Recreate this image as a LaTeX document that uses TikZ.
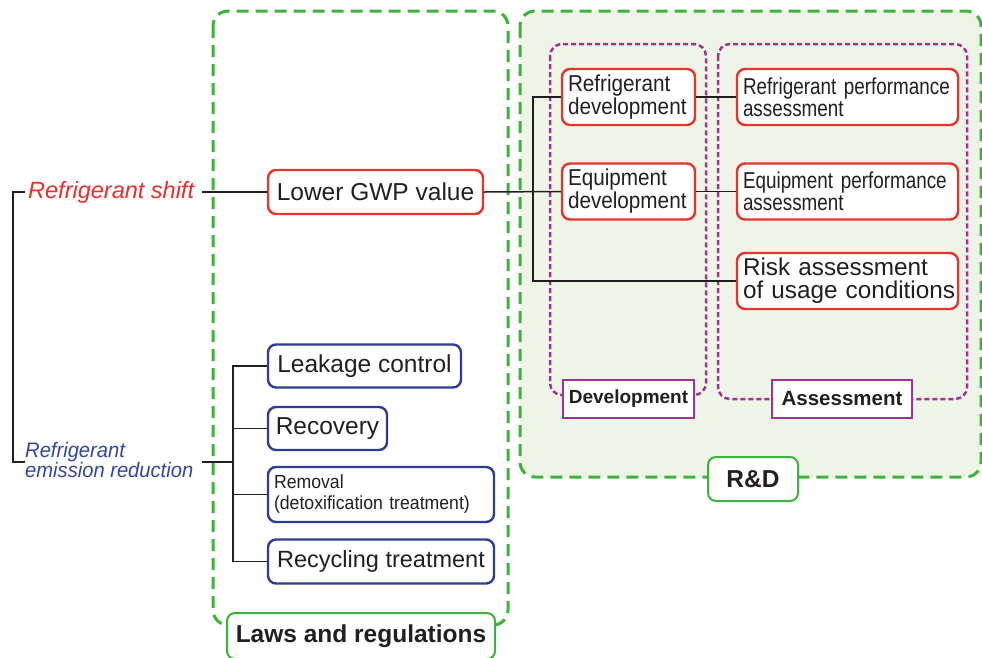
\documentclass[tikz,border=0pt]{standalone}
\usepackage{fontspec}
\setmainfont{Liberation Sans}
\newfontfamily\nfA[FakeStretch=0.9]{Liberation Sans}
\newfontfamily\nfB[FakeStretch=0.82]{Liberation Sans}
\newfontfamily\nfC[FakeStretch=0.93]{Liberation Sans}
\newfontfamily\nfD[FakeStretch=0.96]{Liberation Sans}
\definecolor{cgreen}{RGB}{60,180,60}
\definecolor{cred}{RGB}{232,50,45}
\definecolor{cblue}{RGB}{45,60,150}
\definecolor{cpurple}{RGB}{160,50,150}
\definecolor{cfill}{RGB}{238,245,230}
\definecolor{ctext}{RGB}{35,31,32}
\definecolor{cshift}{RGB}{235,45,45}
\definecolor{cemis}{RGB}{50,70,160}
\tikzset{
  box/.style={draw, line width=2.4pt, rounded corners=8pt, fill=white, text=ctext, inner ysep=0pt, inner xsep=6pt},
  redbox/.style={box, draw=cred},
  bluebox/.style={box, draw=cblue},
  purlab/.style={draw=cpurple, line width=2pt, fill=white, text=ctext, inner sep=0pt, font=\fontsize{19}{21}\selectfont\bfseries},
  greenlab/.style={draw=cgreen, line width=2pt, rounded corners=8pt, fill=white, text=ctext, inner sep=0pt, font=\fontsize{24.5}{26}\selectfont\bfseries},
  greendash/.style={draw=cgreen, line width=3pt, dash pattern=on 12pt off 7pt, rounded corners=15pt},
  purdash/.style={draw=cpurple, line width=2.5pt, dash pattern=on 5pt off 3pt, rounded corners=12pt},
  conn/.style={draw=ctext, line width=1.5pt},
}
\begin{document}
\begin{tikzpicture}[x=1pt,y=-1pt]
\useasboundingbox (0,0) rectangle (982,657);
% containers
\path[greendash, fill=cfill] (520,11) rectangle (981,477);
\path[greendash] (213,11) rectangle (508,625);
\path[purdash] (550,44) rectangle (706,395);
\path[purdash] (718,44) rectangle (967,399);
% labels
\node[purlab, minimum width=131pt, minimum height=38pt] (devlab) at (628.5,399) {Development};
\node[purlab, minimum width=140pt, minimum height=38pt, font=\fontsize{20.5}{22}\selectfont\bfseries] (asslab) at (842,399) {Assessment};
\node[greenlab, minimum width=90pt, minimum height=44pt] (rdlab) at (753,479) {R\&D};
\node[greenlab, minimum width=268pt, minimum height=46pt] (lawlab) at (361,636) {Laws and regulations};
% left texts
\node[anchor=west, inner sep=0pt, text=cshift, font=\fontsize{23.5}{25}\selectfont\itshape] (shift) at (28,192) {Refrigerant shift};
\node[anchor=west, inner sep=0pt, text=cemis, align=left, font=\nfD\fontsize{21}{19}\selectfont\itshape] (emis) at (25,460) {Refrigerant\\emission reduction};
\coordinate (b1) at (13,192);
\coordinate (b2) at (13,462);
\coordinate (s0) at (202,192);
\coordinate (e0) at (202,462);
\coordinate (btrunk) at (233,462);
% boxes
\node[redbox, minimum width=215pt, minimum height=44pt, font=\fontsize{24.5}{26}\selectfont] (gwp) at (375.5,192) {Lower GWP value};
\node[redbox, minimum width=133pt, minimum height=56pt, text width=121pt, inner xsep=6pt, align=left, font=\nfA\fontsize{23}{23}\selectfont] (rdev) at (628.5,97) {Refrigerant\\development};
\node[redbox, minimum width=133pt, minimum height=56pt, text width=121pt, inner xsep=6pt, align=left, font=\nfA\fontsize{23}{23}\selectfont] (edev) at (628.5,191.5) {Equipment\\development};
\node[redbox, minimum width=221pt, minimum height=56pt, text width=209pt, inner xsep=6pt, align=left, font=\nfB\fontsize{23}{22}\selectfont] (rperf) at (847.5,97) {\mbox{Refrigerant performance}\\assessment};
\node[redbox, minimum width=221pt, minimum height=56pt, text width=209pt, inner xsep=6pt, align=left, font=\nfB\fontsize{23}{22}\selectfont] (eperf) at (847.5,191.5) {\mbox{Equipment performance}\\assessment};
\node[redbox, minimum width=221pt, minimum height=56pt, text width=209pt, inner xsep=6pt, align=left, font=\fontsize{24.3}{23}\selectfont] (risk) at (847.5,281) {\mbox{Risk assessment}\\\mbox{of usage conditions}};
\node[bluebox, minimum width=193pt, minimum height=43pt, font=\fontsize{24.5}{26}\selectfont] (leak) at (364.5,366) {Leakage control};
\node[bluebox, minimum width=119pt, minimum height=43pt, font=\fontsize{24.5}{26}\selectfont] (recov) at (327.5,428.5) {Recovery};
\node[bluebox, minimum width=226pt, minimum height=55pt, text width=214pt, align=left, font=\nfC\fontsize{19}{21}\selectfont] (remov) at (381,494.5) {Removal\\(detoxification treatment)};
\node[bluebox, minimum width=226pt, minimum height=44pt, font=\fontsize{23.5}{25}\selectfont] (recyc) at (381,561.5) {Recycling treatment};
% connectors
\draw[conn] ([xshift=-3pt]shift.west) -- (b1) -- (b2) -- (emis.west |- b2);
\draw[conn] (s0) -- (gwp.west);
\draw[conn] (gwp.east) -- (edev.west);
\draw[conn] (rdev.west) -- ++(-28,0) |- (risk.west);
\draw[conn] (rdev.east) -- (rperf.west);
\draw[conn] (edev.east) -- (eperf.west);
\draw[conn] (e0) -- (btrunk);
\draw[conn] (leak.west) -- (leak.west -| btrunk) |- (recyc.west);
\draw[conn] (recov.west) -- (recov.west -| btrunk);
\draw[conn] (remov.west) -- (remov.west -| btrunk);
\end{tikzpicture}
\end{document}
